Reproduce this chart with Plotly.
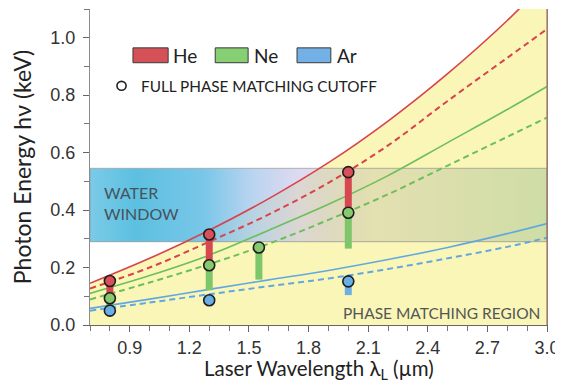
import plotly.graph_objects as go

# ---------------- data ----------------
lam_grid = [0.7, 1.0, 1.3, 1.6, 1.9, 2.2, 2.5, 2.8, 3.0]
he_full = [0.145, 0.232, 0.33, 0.44, 0.565, 0.71, 0.875, 1.06, 1.2]
he_pm = [0.127, 0.2, 0.29, 0.385, 0.495, 0.625, 0.78, 0.93, 1.03]
ne_full = [0.11, 0.172, 0.243, 0.33, 0.42, 0.52, 0.635, 0.75, 0.83]
ne_pm = [0.089, 0.148, 0.212, 0.283, 0.366, 0.455, 0.555, 0.655, 0.722]
ar_full = [0.058, 0.09, 0.124, 0.157, 0.19, 0.228, 0.27, 0.318, 0.353]
ar_pm = [0.05, 0.078, 0.107, 0.135, 0.162, 0.195, 0.232, 0.272, 0.304]

he_pts_x = [0.8, 1.3, 2.0]
he_pts_y = [0.153, 0.315, 0.532]
he_bar_lo = [0.10, 0.208, 0.391]

ne_pts_x = [0.8, 1.3, 1.55, 2.0]
ne_pts_y = [0.093, 0.208, 0.27, 0.391]
ne_bar_lo = [0.055, 0.121, 0.158, 0.266]

ar_pts_x = [0.8, 1.3, 2.0]
ar_pts_y = [0.05, 0.086, 0.152]
ar_bar_lo = [0.05, 0.086, 0.104]

water_window = [0.29, 0.545]  # keV
x_range = [0.7, 3.0]
y_range = [0.0, 1.1]

# ---------------- styles ----------------
HE_LINE, NE_LINE, AR_LINE = "#d9434b", "#6cbf5a", "#62a8e0"
HE_BAR, NE_BAR, AR_BAR = "#d6484f", "#7dc66a", "#6eb0e6"
HE_DOT, NE_DOT, AR_DOT = "#d9505a", "#86c96f", "#6aaee6"
YELLOW = "#faf6b8"
TXT_FONT = "Lato"
TICK_FONT = "Liberation Sans"

fig = go.Figure()

# phase matching region (yellow, under He full curve)
fig.add_trace(go.Scatter(x=lam_grid, y=he_full, mode="lines", line=dict(width=0, shape="spline"),
                         fill="tozeroy", fillcolor=YELLOW, hoverinfo="skip", showlegend=False))

# water window band with horizontal gradient
wx = [x_range[0], x_range[1], x_range[1], x_range[0], x_range[0]]
wy = [water_window[0], water_window[0], water_window[1], water_window[1], water_window[0]]
fig.add_trace(go.Scatter(
    x=wx, y=wy, mode="lines", fill="toself",
    line=dict(color="rgba(140,140,140,0.55)", width=1.2),
    fillgradient=dict(type="horizontal", colorscale=[
        [0.0, "rgba(115,200,230,0.95)"],
        [0.1, "rgba(92,192,224,1.0)"],
        [0.25, "rgba(112,195,231,0.94)"],
        [0.36, "rgba(170,202,236,0.80)"],
        [0.46, "rgba(198,192,230,0.58)"],
        [0.62, "rgba(175,172,160,0.30)"],
        [1.0, "rgba(120,172,130,0.34)"],
    ]),
    hoverinfo="skip", showlegend=False))

# curves
for ys, col, dash, w in [
    (ar_pm, AR_LINE, "dash", 2.0), (ar_full, AR_LINE, "solid", 1.6),
    (ne_pm, NE_LINE, "dash", 2.0), (ne_full, NE_LINE, "solid", 1.6),
    (he_pm, HE_LINE, "dash", 2.0), (he_full, HE_LINE, "solid", 1.6),
]:
    fig.add_trace(go.Scatter(x=lam_grid, y=ys, mode="lines",
                             line=dict(color=col, width=w, dash="solid" if dash == "solid" else "6px,4px",
                                       shape="spline"),
                             hoverinfo="skip", showlegend=False))


# range bars (vertical thick segments from cutoff value down to lower bound)
def segs(xs, tops, los):
    sx, sy = [], []
    for x, t, l in zip(xs, tops, los):
        if t > l:
            sx += [x, x, None]
            sy += [t, l, None]
    return sx, sy


for xs, tops, los, col in [
    (he_pts_x, he_pts_y, he_bar_lo, HE_BAR),
    (ne_pts_x, ne_pts_y, ne_bar_lo, NE_BAR),
    (ar_pts_x, ar_pts_y, ar_bar_lo, AR_BAR),
]:
    sx, sy = segs(xs, tops, los)
    fig.add_trace(go.Scatter(x=sx, y=sy, mode="lines", line=dict(color=col, width=7),
                             showlegend=False, hoverinfo="skip"))

# cutoff circles
for xs, ys, col in [
    (he_pts_x, he_pts_y, HE_DOT), (ne_pts_x, ne_pts_y, NE_DOT), (ar_pts_x, ar_pts_y, AR_DOT)
]:
    fig.add_trace(go.Scatter(x=xs, y=ys, mode="markers",
                             marker=dict(size=11, color=col, line=dict(color="#1e1e1e", width=1.6)),
                             showlegend=False, hoverinfo="skip"))

# ---------------- legend (decoration in paper coords) ----------------
shapes = []
ann = []
for (x0, x1, col, lab, lx) in [
    (0.094, 0.171, "#d65157", "He", 0.178),
    (0.274, 0.346, "#86cf72", "Ne", 0.355),
    (0.453, 0.527, "#73b0e6", "Ar", 0.536),
]:
    shapes.append(dict(type="rect", xref="paper", yref="paper", x0=x0, x1=x1, y0=0.830, y1=0.877,
                       fillcolor=col, line=dict(color="#3a3a3a", width=1), layer="above"))
    ann.append(dict(text=lab, xref="paper", yref="paper", x=lx, y=0.853, xanchor="left", yanchor="middle",
                    showarrow=False, font=dict(family=TXT_FONT, size=19, color="#222")))
shapes.append(dict(type="circle", xref="paper", yref="paper", x0=0.059, x1=0.079, y0=0.743, y1=0.771,
                   fillcolor="white", line=dict(color="#222", width=1.6), layer="above"))
ann.append(dict(text="FULL PHASE MATCHING CUTOFF", xref="paper", yref="paper", x=0.107, y=0.757,
                xanchor="left", yanchor="middle", showarrow=False,
                font=dict(family=TXT_FONT, size=15.3, color="#222")))
ann.append(dict(text="WATER<br>WINDOW", xref="paper", yref="paper", x=0.026, y=0.385, align="left",
                xanchor="left", yanchor="middle", showarrow=False,
                font=dict(family=TXT_FONT, size=16, color="#46525c")))
ann.append(dict(text="PHASE MATCHING REGION", xref="paper", yref="paper", x=0.990, y=0.038,
                xanchor="right", yanchor="middle", showarrow=False,
                font=dict(family=TXT_FONT, size=15.5, color="#555")))
# x-axis title placed as an annotation just below the tick labels
ann.append(dict(text="Laser Wavelength λ<sub>L</sub> (µm)", xref="paper", yref="paper", x=0.5, y=-0.094,
                xanchor="center", yanchor="top", showarrow=False, borderpad=0,
                font=dict(family=TXT_FONT, size=20.5, color="#222")))
# right edge of frame
shapes.append(dict(type="line", xref="paper", yref="paper", x0=1, x1=1, y0=0, y1=1,
                   line=dict(color="#a07563", width=1.2), layer="above"))

# page body has an 8px margin, so the figure is sized/offset to land the plot area at 90..547 x 8..325
fig.update_layout(
    width=555, height=377,
    margin=dict(l=82, r=16, t=1, b=60, autoexpand=False),
    paper_bgcolor="white", plot_bgcolor="white",
    showlegend=False,
    shapes=shapes, annotations=ann,
)
fig.update_xaxes(
    automargin=False,
    range=x_range, tick0=0.9, dtick=0.3, tickformat=".1f",
    ticks="outside", ticklen=6, tickcolor="#666", tickwidth=1,
    minor=dict(dtick=0.1, tick0=0.7, ticks="outside", ticklen=5, tickcolor="#777", showgrid=False),
    showline=True, linecolor="#666", linewidth=1.2, mirror=False, showgrid=False, zeroline=False,
    tickfont=dict(family=TICK_FONT, size=18, color="#333"),
)
fig.update_yaxes(
    automargin=False,
    range=y_range, tick0=0, dtick=0.2, tickformat=".1f",
    ticks="outside", ticklen=6, tickcolor="#666", tickwidth=1, ticklabelstandoff=4,
    minor=dict(dtick=0.1, ticks="outside", ticklen=5, tickcolor="#777", showgrid=False),
    showline=True, linecolor="#8c8c8c", linewidth=1.2, mirror=True, showgrid=False, zeroline=False,
    tickfont=dict(family=TICK_FONT, size=18, color="#333"),
    title=dict(text="Photon Energy hν (keV)", font=dict(family=TXT_FONT, size=23, color="#222"), standoff=13),
)

fig.write_html("out.html")
